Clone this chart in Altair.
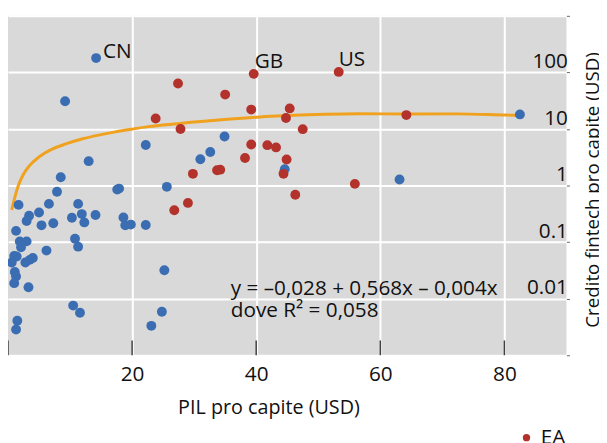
import altair as alt
import pandas as pd

FONT = "Open Sans"

# Non-EA countries (blue)
blue_x = [14.2, 9.2, 22.2, 34.9, 32.6, 31.0, 13.0, 8.5, 7.9, 25.6, 17.6, 17.9, 44.6, 63.1, 82.5,
          1.7, 6.6, 11.3, 5.0, 3.4, 3.0, 11.9, 14.1, 10.3, 12.3, 5.4, 7.3, 18.6, 18.9, 19.8, 22.2,
          1.3, 1.9, 3.0, 2.1, 10.8, 11.3, 6.2, 1.0, 1.4, 0.6, 2.8, 3.5, 4.0, 1.1, 1.3, 1.0, 3.3,
          25.2, 10.5, 11.6, 1.5, 1.3, 24.8, 23.1]
blue_y = [179, 30.9, 5.21, 7.37, 3.91, 2.92, 2.70, 1.40, 0.776, 0.949, 0.848, 0.883, 1.95, 1.28, 18.1,
          0.455, 0.474, 0.474, 0.334, 0.292, 0.236, 0.313, 0.301, 0.270, 0.223, 0.198, 0.215, 0.273,
          0.198, 0.204, 0.201, 0.158, 0.103, 0.103, 0.0808, 0.115, 0.0831, 0.0708, 0.0570, 0.0556,
          0.0437, 0.0437, 0.0485, 0.0526, 0.0296, 0.0247, 0.0188, 0.0159, 0.0318, 0.00755, 0.00563,
          0.00408, 0.00284, 0.00586, 0.00331]

# EA countries (red)
red_x = [27.4, 35.0, 39.6, 53.3, 39.2, 45.4, 44.8, 23.8, 27.8, 47.5, 64.2, 39.2, 41.8, 43.2,
         38.2, 44.9, 44.4, 33.7, 34.2, 29.8, 55.9, 46.3, 29.0, 26.8]
red_y = [63.8, 40.5, 94.2, 102, 22.0, 23.1, 15.6, 15.3, 10.0, 9.93, 17.6, 5.32, 5.17, 4.72,
         3.07, 2.89, 1.61, 1.86, 1.91, 1.61, 1.07, 0.689, 0.493, 0.365]

# Fitted curve
curve_x = [0.6, 1.1, 1.6, 2.4, 3.5, 5.1, 7.2, 9.3, 11.9, 14.6, 17.3, 19.9, 22.6, 27.3, 35.3,
           43.3, 51.2, 56.5, 64.1, 72.4, 80.4, 82.6]
curve_y = [0.37, 0.62, 0.95, 1.52, 2.27, 3.26, 4.44, 5.43, 6.64, 7.80, 8.90, 9.92, 11.0, 12.4, 14.8,
           16.9, 18.2, 18.6, 18.4, 18.5, 17.6, 17.4]

label_names = ["CN", "GB", "US"]
label_x = [14.2, 39.6, 53.3]
label_y = [179, 94.2, 102]

eq_lines = ["y = \u20130,028 + 0,568x \u2013 0,004x", "dove R\u00b2 = 0,058"]
eq_x = [35.9, 35.9]
eq_y = [0.015, 0.0060]

x_ticks = [0, 20, 40, 60, 80]
y_ticks = [0.001, 0.01, 0.1, 1, 10, 100, 1000]

group_names = ["EA", "Altri paesi"]
group_colors = ["#b3322b", "#3b6db2"]

points = pd.concat([
    pd.DataFrame({"gdp": blue_x, "credit": blue_y, "group": "Altri paesi"}),
    pd.DataFrame({"gdp": red_x, "credit": red_y, "group": "EA"}),
], ignore_index=True)
curve = pd.DataFrame({"gdp": curve_x, "credit": curve_y})
labels = pd.DataFrame({"gdp": label_x, "credit": label_y, "name": label_names})
eq = pd.DataFrame({"gdp": eq_x, "credit": eq_y, "txt": eq_lines})
ticks = pd.DataFrame({"gdp": x_ticks})

x_scale = alt.Scale(domain=[0, 90], nice=False, zero=False)
y_scale = alt.Scale(type="log", domain=[0.001, 1000], nice=False)

x_axis = alt.Axis(
    values=x_ticks,
    labelExpr="datum.value == 0 ? '' : datum.label",
    grid=True, gridColor={"condition": {"test": "datum.value == 0", "value": "transparent"}, "value": "white"},
    gridWidth=2, ticks=False, domain=False,
    labelPadding=9, labelFontSize=21, labelColor="#111",
    title="PIL pro capite (USD)", titleFontSize=20, titleFontWeight="normal", titleColor="#111",
    titleX=264, titleY=53, titleBaseline="middle", titleAlign="center",
)
y_axis = alt.Axis(
    orient="right", values=y_ticks,
    labelExpr="(datum.value < 0.005 || datum.value > 500) ? '' : format(datum.value, '~g')",
    grid=True, gridColor="white", gridWidth=2,
    tickSize=3, tickColor="#666", domain=False,
    labelAlign="right", labelPadding=-2, labelBaseline="alphabetic", labelOffset=-5,
    labelFontSize=21, labelColor="#111", labelOverlap=False,
    title="Credito fintech pro capite (USD)", titleAngle=270, titleX=26, titleY=176,
    titleBaseline="middle", titleFontSize=19, titleFontWeight="normal", titleColor="#111",
)

x_enc = alt.X("gdp:Q", scale=x_scale, axis=x_axis)
y_enc = alt.Y("credit:Q", scale=y_scale, axis=y_axis)

line = alt.Chart(curve).mark_line(color="#f0a21e", strokeWidth=3, interpolate="monotone").encode(
    x=x_enc, y=y_enc)

tick_marks = alt.Chart(ticks).mark_rule(color="#404040", strokeWidth=1.5).encode(
    x=x_enc, y=alt.value(329), y2=alt.value(344))

dots = alt.Chart(points).mark_circle(size=100, opacity=1).encode(
    x=x_enc, y=y_enc,
    color=alt.Color("group:N", scale=alt.Scale(domain=group_names, range=group_colors),
                    legend=alt.Legend(title=None, orient="none", legendX=515, legendY=417,
                                      values=["EA"],
                                      symbolSize=55, symbolType="circle", labelFontSize=21,
                                      labelColor="#111", direction="vertical")),
    order=alt.Order("group:N", sort="ascending"),
)

label_layers = []
for name, dx, dy in [("CN", 7, -6), ("GB", 1, -12), ("US", 0, -12)]:
    label_layers.append(
        alt.Chart(labels).transform_filter(alt.datum.name == name)
        .mark_text(align="left", baseline="middle", dx=dx, dy=dy, fontSize=21, font=FONT, color="#111")
        .encode(x=x_enc, y=y_enc, text="name:N")
    )

eq_text = alt.Chart(eq).mark_text(align="left", baseline="middle", fontSize=21, font=FONT, color="#111").encode(
    x=x_enc, y=y_enc, text="txt:N")

chart = alt.layer(line, tick_marks, dots, *label_layers, eq_text).properties(
    width=566, height=344,
    padding={"left": 0, "top": 5, "right": 33, "bottom": 86},
    autosize=alt.AutoSizeParams(type="none"),
).configure(font=FONT).configure_view(fill="#d9d9d9", strokeWidth=0)

chart.save("out.html", embed_options={"renderer": "svg", "actions": False})
